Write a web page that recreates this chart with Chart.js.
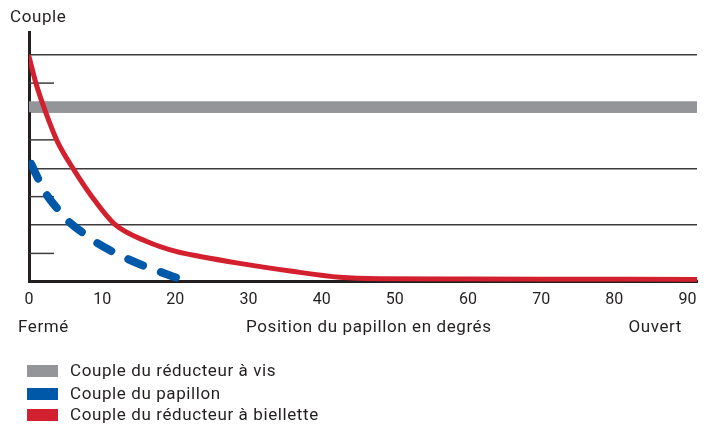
<!DOCTYPE html>
<html>
<head>
<meta charset="utf-8">
<script src="https://cdn.jsdelivr.net/npm/chart.js@4/dist/chart.umd.min.js"></script>
<style>
  html, body { margin: 0; padding: 0; background: #ffffff; }
  #wrap { position: relative; width: 713px; height: 429px; font-family: Roboto, "Noto Sans", sans-serif; color: #231f20; }
  canvas { position: absolute; left: 0; top: 0; }
  .lbl { position: absolute; font-size: 17px; letter-spacing: 0.6px; white-space: nowrap; line-height: 18px; }
  .leg { position: absolute; left: 27px; font-size: 17px; letter-spacing: 0.6px; line-height: 18px; white-space: nowrap; }
  .leg span.box { display: inline-block; width: 31px; height: 12px; margin-right: 12px; vertical-align: -1px; }
</style>
</head>
<body>
<div id="wrap">
  <canvas id="c" width="713" height="429"></canvas>
  <div class="lbl" style="left:10px; top:7px;">Couple</div>
  <div class="lbl" style="left:18px; top:317px;">Fermé</div>
  <div class="lbl" style="left:246px; top:317px;">Position du papillon en degrés</div>
  <div class="lbl" style="right:31px; top:317px;">Ouvert</div>
  <div id="legend"></div>
</div>
<script>
// ---- data ----
const xTicks = [0, 10, 20, 30, 40, 50, 60, 70, 80, 90];
const xMax = 91.3;
const yMax = 8.8;
const seriesNames = ["Couple du réducteur à vis", "Couple du papillon", "Couple du réducteur à biellette"];
const seriesColors = ["#939598", "#0058a8", "#d3202f"];

const bandX = [0, 91.3];
const bandY = [6.17, 6.17];

const blueX = [0.3, 1.5, 2.4, 4.2, 5.1, 7.65, 9, 11.5, 13.1, 15.8, 17.6, 20.4];
const blueY = [4.15, 3.5, 3.07, 2.48, 2.2, 1.67, 1.42, 1.05, 0.85, 0.55, 0.38, 0.12];

const redX = [0, 1, 2.3, 3.9, 6.1, 8.6, 11.7, 16.1, 20.2, 23.4, 28.8, 35.7, 42.5, 48, 60, 75, 91.3];
const redY = [7.93, 6.95, 5.96, 4.93, 3.96, 3.0, 2.03, 1.42, 1.06, 0.89, 0.65, 0.38, 0.16, 0.11, 0.1, 0.09, 0.08];

const longGrid = [2, 4, 6, 8];
const shortTicks = [1, 3, 5, 7];

const pts = (xs, ys) => xs.map((x, i) => ({ x: x, y: ys[i] }));

// short tick marks inside the plot, drawn via the y scale
const shortTickPlugin = {
  id: 'shortTicks',
  beforeDatasetsDraw(chart) {
    const { ctx, chartArea, scales } = chart;
    ctx.save();
    ctx.strokeStyle = '#3c3c3c';
    ctx.lineWidth = 1.5;
    shortTicks.forEach(v => {
      const y = scales.y.getPixelForValue(v);
      ctx.beginPath();
      ctx.moveTo(chartArea.left, y);
      ctx.lineTo(chartArea.left + 25, y);
      ctx.stroke();
    });
    ctx.restore();
  }
};

new Chart(document.getElementById('c'), {
  type: 'line',
  data: {
    datasets: [
      { label: seriesNames[0], data: pts(bandX, bandY), borderColor: seriesColors[0], borderWidth: 11,
        borderCapStyle: 'butt', pointRadius: 0, order: 3 },
      { label: seriesNames[1], data: pts(blueX, blueY), borderColor: seriesColors[1], borderWidth: 8,
        borderDash: [16, 19], borderCapStyle: 'round', cubicInterpolationMode: 'monotone', pointRadius: 0, order: 2 },
      { label: seriesNames[2], data: pts(redX, redY), borderColor: seriesColors[2], borderWidth: 5,
        borderCapStyle: 'round', cubicInterpolationMode: 'monotone', pointRadius: 0, order: 1 }
    ]
  },
  options: {
    responsive: false,
    animation: false,
    events: [],
    layout: { padding: { left: 29, top: 32, right: 16, bottom: 110 } },
    plugins: { legend: { display: false }, tooltip: { enabled: false } },
    scales: {
      x: {
        type: 'linear', min: 0, max: xMax,
        afterBuildTicks: (s) => { s.ticks = xTicks.map(v => ({ value: v })); },
        ticks: { color: '#231f20', font: { family: 'Roboto', size: 16 }, padding: 9, maxRotation: 0 },
        grid: { display: false, drawTicks: false },
        border: { display: true, color: '#231f20', width: 3 }
      },
      y: {
        type: 'linear', min: 0, max: yMax,
        afterBuildTicks: (s) => { s.ticks = longGrid.map(v => ({ value: v })); },
        ticks: { display: false },
        grid: { drawTicks: false, color: '#3c3c3c', lineWidth: 1.5 },
        border: { display: true, color: '#231f20', width: 3 }
      }
    }
  },
  plugins: [shortTickPlugin]
});

// legend as real text
const leg = document.getElementById('legend');
const legTops = [361, 384, 405];
seriesNames.forEach((n, i) => {
  const d = document.createElement('div');
  d.className = 'leg';
  d.style.top = legTops[i] + 'px';
  d.innerHTML = '<span class="box" style="background:' + seriesColors[i] + '"></span>' + n;
  leg.appendChild(d);
});
</script>
</body>
</html>
